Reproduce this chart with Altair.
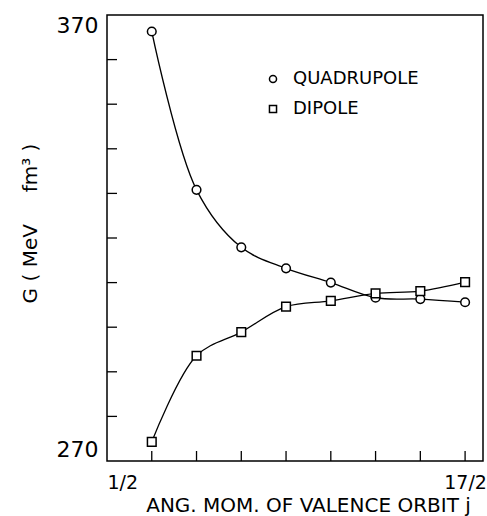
import altair as alt
import pandas as pd

# ---- data ----
j_values = [1.5, 2.5, 3.5, 4.5, 5.5, 6.5, 7.5, 8.5]
quadrupole = [366.3, 330.8, 317.9, 313.2, 310.0, 306.6, 306.3, 305.6]
dipole = [274.3, 293.6, 298.9, 304.6, 305.9, 307.6, 308.1, 310.1]
series_names = ["QUADRUPOLE", "DIPOLE"]
series_shapes = ["circle", "square"]

x_tick_values = [1.5, 2.5, 3.5, 4.5, 5.5, 6.5, 7.5, 8.5]
x_label_values = [0.5, 8.5]
x_label_texts = ["1/2", "17/2"]
y_tick_values = [280, 290, 300, 310, 320, 330, 340, 350, 360]
y_label_values = [270, 370]

rows = []
for name, vals in zip(series_names, [quadrupole, dipole]):
    for j, g in zip(j_values, vals):
        rows.append({"j": j, "G": g, "series": name})
df = pd.DataFrame(rows)
xt_df = pd.DataFrame({"j": x_tick_values})
yt_df = pd.DataFrame({"G": y_tick_values})

FONT = "DejaVu Sans"
NB = "\u00a0"
W, H = 376, 446
TICK = 10

x_scale = alt.Scale(domain=[0.5, 8.9], nice=False, zero=False)
y_scale = alt.Scale(domain=[270, 370], nice=False, zero=False)

x_expr = " : ".join(
    [f"datum.value == {v} ? '{t}'" for v, t in zip(x_label_values, x_label_texts)]
) + " : ''"

x_axis = alt.Axis(
    values=x_label_values,
    labelExpr=x_expr,
    title="ANG. MOM. OF VALENCE ORBIT j",
    titleX=201,
    titleY=44,
    titleAlign="center",
    titleBaseline="middle",
    titleFontSize=20,
    labelFontSize=19,
    labelPadding=12,
)
y_axis = alt.Axis(
    values=y_label_values,
    title=f"G{NB}({NB}MeV{NB*5}fm³{NB})",
    titleX=-77,
    titleY=208,
    titleAngle=-90,
    titleAlign="center",
    titleBaseline="middle",
    titleFontSize=20,
    labelFontSize=22,
    labelPadding=9,
    labelFlush=True,
)
x_enc = alt.X("j:Q", scale=x_scale, axis=x_axis)
y_enc = alt.Y("G:Q", scale=y_scale, axis=y_axis)

line = alt.Chart(df).mark_line(
    interpolate="catmull-rom", color="black", strokeWidth=1.3
).encode(x=x_enc, y=y_enc, detail="series:N")

points = alt.Chart(df).mark_point(
    filled=True, fill="white", stroke="black", strokeWidth=1.5, size=75, opacity=1
).encode(
    x=x_enc,
    y=y_enc,
    shape=alt.Shape(
        "series:N",
        scale=alt.Scale(domain=series_names, range=series_shapes),
        legend=None,
    ),
)

# inward ticks
x_ticks = alt.Chart(xt_df).mark_rule(color="black", strokeWidth=1.3).encode(
    x=x_enc,
    y=alt.value(H),
    y2=alt.value(H - TICK),
)
y_ticks = alt.Chart(yt_df).mark_rule(color="black", strokeWidth=1.3).encode(
    y=y_enc,
    x=alt.value(0),
    x2=alt.value(TICK),
)

# in-plot legend
legend_layers = []
for i, (name, shape) in enumerate(zip(series_names, series_shapes)):
    ldf = pd.DataFrame({"series": [name]})
    ypos = 64 + 30 * i
    legend_layers.append(
        alt.Chart(ldf).mark_point(
            shape=shape, filled=True, fill="white", stroke="black",
            strokeWidth=1.5, size=50, opacity=1
        ).encode(x=alt.value(166), y=alt.value(ypos))
    )
    legend_layers.append(
        alt.Chart(ldf).mark_text(
            align="left", baseline="middle", font=FONT, fontSize=18, color="black"
        ).encode(x=alt.value(186), y=alt.value(ypos), text="series:N")
    )

chart = (
    alt.layer(line, points, x_ticks, y_ticks, *legend_layers)
    .properties(
        width=W,
        height=H,
        autosize=alt.AutoSizeParams(type="none"),
        padding={"left": 107, "top": 15, "right": 4, "bottom": 55},
        background="white",
    )
    .configure_view(stroke="black", strokeWidth=1.5)
    .configure_axis(
        domain=False,
        grid=False,
        ticks=False,
        labelFont=FONT,
        labelColor="black",
        labelOverlap=False,
        labelBound=False,
        titleFont=FONT,
        titleColor="black",
        titleFontWeight="normal",
    )
)

chart.save("out.html", embed_options={"renderer": "svg", "actions": False})
